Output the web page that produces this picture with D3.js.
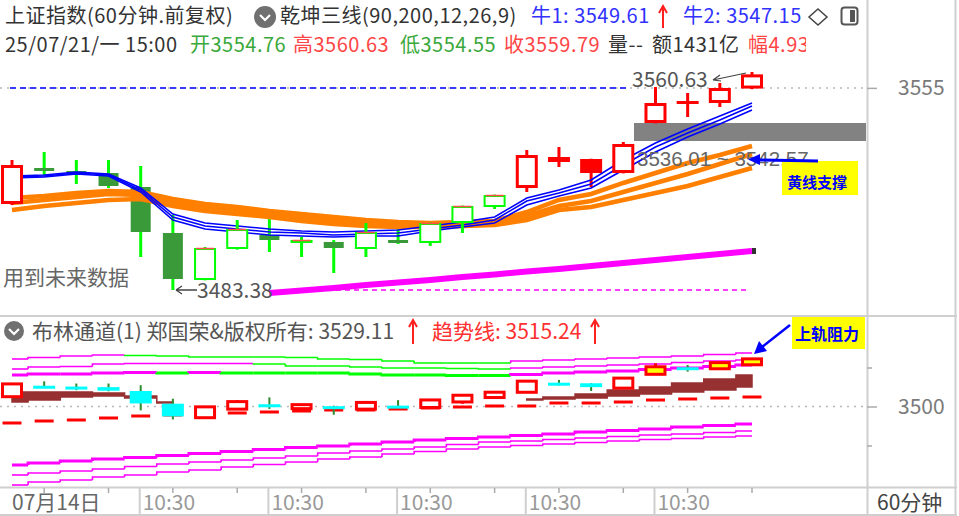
<!DOCTYPE html>
<html><head><meta charset="utf-8">
<script src="https://cdn.jsdelivr.net/npm/d3@7"></script>
<style>
body{margin:0;background:#fff;}
svg{display:block;font-family:"Noto Sans CJK SC","Noto Sans",sans-serif;}
</style></head><body>
<svg id="c" width="959" height="516"></svg>
<script>
// ---------- data ----------
const openP  = [3513.85,3526.61,3525.55,3524.84,3519.88,3503.58,3486.92,3497.91,3502.87,3501.00,3500.39,3497.91,3501.10,3500.04,3507.12,3512.79,3519.52,3530.51,3529.80,3524.84,3542.56,3550.35,3549.65,3554.76];
const highP  = [3529.45,3532.28,3529.45,3529.45,3527.32,3509.96,3498.60,3508.18,3511.73,3502.16,3501.10,3507.12,3508.18,3507.30,3513.30,3517.20,3532.99,3534.05,3529.90,3535.83,3555.31,3553.19,3556.73,3560.63];
const lowP   = [3513.50,3524.13,3520.94,3519.52,3495.07,3483.38,3486.80,3497.70,3496.85,3495.07,3489.40,3495.07,3499.68,3498.97,3503.58,3512.08,3518.10,3526.97,3519.88,3524.70,3542.40,3544.68,3548.23,3554.55];
const closeP = [3527.67,3525.90,3524.84,3520.23,3503.93,3487.28,3498.26,3504.99,3501.10,3501.10,3498.26,3503.93,3500.39,3507.12,3513.15,3517.04,3531.22,3528.74,3524.84,3535.12,3549.65,3549.29,3554.96,3559.79];
const trend  = [1,-1,-1,-1,-1,-1,-1,-1,-1,-1,-1,-1,-1,-1,-1,-1,1,1,1,1,1,1,1,1];

const blue1 = [3523.78,3524.13,3525.19,3524.49,3519.52,3510.31,3507.12,3506.06,3505.00,3504.29,3503.93,3504.29,3504.64,3506.06,3507.48,3509.25,3515.98,3518.82,3522.36,3529.45,3535.47,3540.43,3545.04,3549.61];
const blue2 = [3523.42,3523.78,3524.84,3524.13,3518.82,3509.25,3506.06,3505.00,3503.93,3503.58,3502.87,3503.22,3503.58,3505.00,3506.41,3508.18,3514.92,3517.75,3520.94,3527.67,3534.05,3539.01,3543.62,3548.58];
const blue3 = [3523.07,3523.42,3524.49,3523.78,3518.11,3508.18,3505.00,3503.93,3502.87,3502.51,3502.16,3502.51,3502.51,3504.29,3505.70,3507.12,3513.50,3516.69,3519.52,3525.90,3532.28,3537.60,3542.20,3547.15];
const orange1 = [3515.98,3516.69,3517.75,3518.46,3518.11,3515.63,3513.85,3512.79,3511.37,3510.31,3509.25,3508.18,3507.48,3507.12,3507.48,3507.83,3511.02,3515.27,3517.40,3521.30,3524.84,3528.38,3531.22,3534.41];
const orange2 = [3514.21,3515.27,3516.33,3517.40,3517.04,3514.56,3512.79,3511.73,3510.31,3509.25,3508.18,3507.12,3506.77,3506.41,3506.77,3507.12,3509.60,3513.15,3514.92,3518.11,3521.30,3524.49,3528.03,3531.57];
const orange3 = [3511.73,3513.15,3514.21,3515.27,3515.63,3513.15,3511.37,3510.31,3509.25,3507.83,3506.77,3506.06,3505.70,3505.70,3506.06,3506.41,3508.18,3511.73,3512.79,3515.27,3517.75,3520.23,3523.42,3526.61];
const magentaM = [null,null,null,null,null,null,null,null,3482.32,3483.20,3484.09,3485.15,3486.04,3486.92,3487.99,3488.87,3489.94,3490.82,3491.88,3492.95,3494.01,3495.07,3496.14,3497.20];

const upA = [3560.90,3562.82,3564.75,3566.03,3565.39,3564.75,3563.46,3563.46,3563.46,3562.82,3560.90,3560.26,3558.34,3555.77,3555.77,3555.77,3558.34,3559.62,3560.90,3562.18,3563.46,3564.75,3566.67,3568.59];
const upB = [3548.08,3550.64,3551.28,3554.49,3555.13,3555.13,3555.13,3555.13,3554.49,3551.93,3551.93,3550.64,3549.36,3549.36,3548.72,3548.08,3549.36,3550.64,3551.93,3553.21,3554.49,3556.41,3558.34,3559.62];
const upC = [3540.39,3541.67,3541.67,3542.95,3543.59,3542.95,3543.59,3542.95,3542.95,3542.95,3542.95,3541.67,3540.39,3540.39,3539.75,3539.75,3541.03,3542.95,3544.23,3545.51,3547.44,3549.36,3551.28,3553.21];
const lowA = [3425.00,3427.56,3430.13,3432.69,3434.61,3437.18,3439.74,3442.31,3444.87,3447.43,3449.36,3451.92,3454.49,3457.05,3458.97,3460.90,3462.82,3464.74,3467.31,3469.23,3471.15,3473.72,3475.64,3477.56];
const lowB = [3412.18,3414.74,3417.30,3419.87,3423.07,3426.28,3428.84,3431.41,3433.97,3436.54,3440.38,3442.95,3445.51,3448.07,3451.28,3454.49,3455.77,3457.69,3459.61,3461.54,3463.46,3464.74,3466.67,3468.59];
const lowC = [3399.36,3403.20,3405.77,3409.61,3412.18,3416.02,3418.59,3422.43,3425.64,3428.84,3432.69,3435.25,3439.10,3442.31,3445.51,3448.07,3450.00,3451.92,3453.84,3455.77,3457.69,3458.97,3460.90,3462.18];
const midTop = [3518.59,3518.59,3518.59,3517.31,3513.46,3505.77,null,null,null,null,null,null,null,null,null,null,3509.62,3512.18,3516.03,3521.15,3525.00,3530.13,3535.26,3540.39];
const midBot = [3505.77,3508.33,3512.18,3513.46,3510.90,3504.49,null,null,null,null,null,null,null,null,null,null,3508.33,3509.62,3510.90,3513.46,3516.03,3518.59,3521.15,3525.00];
const trendLine = [3478.85,3481.41,3482.69,3485.26,3487.82,3489.10,3490.38,3491.67,3492.95,3494.23,3495.51,3495.51,3496.79,3498.08,3499.36,3500.64,3500.64,3504.49,3504.49,3505.77,3508.33,3509.62,3510.90,3512.18];

const dayTickIdx = [0,4,8,12,16,20];
const dayTickLabels = ["07月14日","10:30","10:30","10:30","10:30","10:30"];
const mainTicks = [3555];
const lowTicks = [3500];
const lowMinorTicks = [3450,3550];
const hiLabel = 3560.63, loLabel = 3483.38;
const bandLabel = "3536.01 ~ 3542.57";
const bollValue = 3529.11, trendValue = 3515.24;

// ---------- scales ----------
const svg = d3.select("#c");
const n = closeP.length;
const x = d3.scaleLinear().domain([0, n-1]).range([12, 752]);
const yM = d3.scaleLinear().domain([3483.38, 3560.63]).range([290, 72]);
const yL = d3.scaleLinear().domain([3500, 3550]).range([406.5, 367.5]);

const RED = "#ff0000", GRN = "#00ff00", DKG = "#3a9a3a", MAG = "#ff00ff";

// clips
const defs = svg.append("defs");
defs.append("clipPath").attr("id","cm").append("rect").attr("x",0).attr("y",58).attr("width",866).attr("height",257);
defs.append("clipPath").attr("id","cl").append("rect").attr("x",0).attr("y",317).attr("width",866).attr("height",170);
defs.append("clipPath").attr("id","ch").append("rect").attr("x",0).attr("y",0).attr("width",806).attr("height",58);

// ---------- frame ----------
const frame = svg.append("g").attr("stroke","#cfcfcf").attr("stroke-width",2);
frame.append("line").attr("x1",0).attr("x2",957).attr("y1",316).attr("y2",316);
frame.append("line").attr("x1",0).attr("x2",957).attr("y1",487.5).attr("y2",487.5);
frame.append("line").attr("x1",867.5).attr("x2",867.5).attr("y1",0).attr("y2",516);
frame.append("line").attr("x1",955.5).attr("x2",955.5).attr("y1",0).attr("y2",516);
frame.append("line").attr("x1",0).attr("x2",957).attr("y1",515).attr("y2",515);

// ---------- main panel ----------
const gm = svg.append("g").attr("clip-path","url(#cm)");
gm.append("line").attr("x1",0).attr("x2",866).attr("y1",yM(3555)).attr("y2",yM(3555))
  .attr("stroke","#b8b8b8").attr("stroke-width",1.5).attr("stroke-dasharray","2,5");
gm.append("line").attr("x1",10).attr("x2",630).attr("y1",yM(3555)).attr("y2",yM(3555))
  .attr("stroke","#3a3aff").attr("stroke-width",2).attr("stroke-dasharray","6,4");
gm.append("rect").attr("x",634).attr("y",123).attr("width",232).attr("height",18).attr("fill","#828282");

const lineM = d3.line().defined(d=>d!=null).x((d,i)=>x(i)).y(d=>yM(d));
gm.append("line").attr("x1",282).attr("x2",750).attr("y1",yM(loLabel)).attr("y2",yM(loLabel))
  .attr("stroke",MAG).attr("stroke-width",1.5).attr("stroke-dasharray","5,4");
gm.append("path").attr("d",lineM(magentaM)).attr("fill","none").attr("stroke",MAG).attr("stroke-width",6);
gm.append("rect").attr("x",x(n-1)).attr("y",yM(magentaM[n-1])-3).attr("width",4).attr("height",6).attr("fill","#333");

function candleMain(i, hollowPass){
  const o=openP[i], c=closeP[i], up=c>=o, bull=trend[i]>0;
  if (up !== hollowPass) return;
  const cx = x(i), hw = 11;
  const top = yM(Math.max(o,c)), bot = yM(Math.min(o,c));
  const wc = bull ? RED : GRN;
  gm.append("line").attr("x1",cx).attr("x2",cx).attr("y1",yM(highP[i])).attr("y2",yM(lowP[i]))
    .attr("stroke",wc).attr("stroke-width",3);
  if (bull && up) {
    gm.append("rect").attr("x",cx-hw+1.5).attr("y",top+1.5).attr("width",2*hw-3).attr("height",Math.max(bot-top-3,1))
      .attr("fill","#fff").attr("stroke",RED).attr("stroke-width",3);
  } else if (bull) {
    gm.append("rect").attr("x",cx-hw).attr("y",top).attr("width",2*hw).attr("height",Math.max(bot-top,3)).attr("fill",RED);
  } else if (up) {
    gm.append("rect").attr("x",cx-hw+1).attr("y",top+1).attr("width",2*hw-2).attr("height",Math.max(bot-top-2,1))
      .attr("fill","#fff").attr("stroke",GRN).attr("stroke-width",2);
    gm.append("line").attr("x1",cx-hw+2).attr("x2",cx+hw-2).attr("y1",top+0.5).attr("y2",top+0.5).attr("stroke","#ff5050").attr("stroke-width",1.5);
  } else {
    gm.append("rect").attr("x",cx-hw+1).attr("y",top).attr("width",2*hw-2).attr("height",Math.max(bot-top,3)).attr("fill",DKG);
  }
}
for (let i=0;i<n;i++) candleMain(i,false);
[orange3,orange2,orange1].forEach(a=>gm.append("path").attr("d",lineM(a)).attr("fill","none").attr("stroke","#ff8000").attr("stroke-width",4.5));
[blue3,blue2,blue1].forEach(a=>gm.append("path").attr("d",lineM(a)).attr("fill","none").attr("stroke","#0000ff").attr("stroke-width",1.6));
for (let i=0;i<n;i++) candleMain(i,true);

const T = (g, tx, ty, s, fill, size) =>
  g.append("text").attr("x",tx).attr("y",ty).text(s).attr("fill",fill).attr("font-size",size||21);

T(gm, 632, 87, d3.format(".2f")(hiLabel), "#555");
gm.append("path").attr("d",`M713,80 L746,73 M713,80 l7,-5 M713,80 l8,1`).attr("stroke","#444").attr("stroke-width",1.2).attr("fill","none");
T(gm, 637, 166, bandLabel, "#666").attr("font-family",'"Liberation Sans",Arial,sans-serif').attr("font-size",20.5);
T(gm, 197, 298, d3.format(".2f")(loLabel), "#555");
gm.append("path").attr("d",`M176,${yM(loLabel)} L197,${yM(loLabel)} M176,${yM(loLabel)} l6,-4 M176,${yM(loLabel)} l6,4`).attr("stroke","#444").attr("stroke-width",1.3).attr("fill","none");
T(gm, 3, 285, "用到未来数据", "#666");

// 黄线支撑
svg.append("rect").attr("x",782).attr("y",161).attr("width",76).attr("height",34).attr("fill","#ffff00");
svg.append("text").attr("x",787).attr("y",188).text("黄线支撑").attr("fill","#0000ff").attr("font-size",15).attr("font-weight","bold");
svg.append("path").attr("d","M818,161 L758,160").attr("stroke","#0000ff").attr("stroke-width",3);
svg.append("path").attr("d","M748,159.5 L760,154 L760,165 Z").attr("fill","#0000ff");

// ---------- lower panel ----------
const gl = svg.append("g").attr("clip-path","url(#cl)");
gl.append("line").attr("x1",0).attr("x2",866).attr("y1",yL(3500)).attr("y2",yL(3500))
  .attr("stroke","#b8b8b8").attr("stroke-width",1.5).attr("stroke-dasharray","2,5");

function stepBand(arr, width){
  for (let i=0;i<n;i++){
    const x0 = i===0 ? x(0) : (x(i-1)+x(i))/2;
    const x1 = i===n-1 ? x(n-1) : (x(i)+x(i+1))/2;
    const prev = i===0 ? arr[0] : arr[i-1];
    let dir = 0;
    for (let k=i;k>0 && dir===0;k--) dir = Math.sign(arr[k]-arr[k-1]);
    if (dir===0) dir = 1;
    const col = dir>0 ? MAG : GRN;
    const pts = [[x0, yL(prev)], [x0, yL(arr[i])], [x1, yL(arr[i])]];
    gl.append("path").attr("d", d3.line()(pts)).attr("fill","none").attr("stroke",col).attr("stroke-width",width);
  }
}
stepBand(upA,1.6); stepBand(upB,1.6); stepBand(upC,3);
stepBand(lowC,1.6); stepBand(lowB,1.6); stepBand(lowA,3);

const midArea = d3.area().defined((d,i)=>midTop[i]!=null).curve(d3.curveStep)
  .x((d,i)=>x(i)).y0((d,i)=>yL(midBot[i])).y1((d,i)=>yL(midTop[i]));
gl.append("path").attr("d",midArea(midTop)).attr("fill","#973131").attr("stroke","#973131").attr("stroke-width",1.5);

trendLine.forEach((v,i)=>{
  gl.append("line").attr("x1",x(i)-9.5).attr("x2",x(i)+9.5).attr("y1",yL(v)).attr("y2",yL(v)).attr("stroke",RED).attr("stroke-width",3);
});

for (let i=0;i<n;i++){
  const o=openP[i], c=closeP[i], up=c>=o, cx=x(i), hw=11;
  const top=yL(Math.max(o,c)), bot=yL(Math.min(o,c));
  gl.append("line").attr("x1",cx).attr("x2",cx).attr("y1",yL(highP[i])).attr("y2",yL(lowP[i]))
    .attr("stroke", up?RED:"#2e8b2e").attr("stroke-width",up?3:2);
  if (up){
    gl.append("rect").attr("x",cx-hw+1.5).attr("y",top-1).attr("width",2*hw-3).attr("height",Math.max(bot-top,2)+2)
      .attr("fill", c>upC[i] ? "#ffff00" : "#fff").attr("stroke",RED).attr("stroke-width",3);
  } else {
    gl.append("rect").attr("x",cx-hw).attr("y",top).attr("width",2*hw).attr("height",Math.max(bot-top,3)).attr("fill","#00ffff");
  }
}

// 上轨阻力
svg.append("rect").attr("x",792).attr("y",317).attr("width",73).attr("height",32).attr("fill","#ffff00");
svg.append("text").attr("x",795).attr("y",340).text("上轨阻力").attr("fill","#0000ff").attr("font-size",16).attr("font-weight","bold");
svg.append("path").attr("d","M790,325 L762,347").attr("stroke","#0000ff").attr("stroke-width",2.5);
svg.append("path").attr("d","M754,354 L759,341 L767,351 Z").attr("fill","#0000ff");

// ---------- right axes ----------
function styleAxis(g){
  g.select(".domain").remove();
  g.selectAll(".tick line").attr("stroke","#aaa").attr("stroke-width",1.5);
  g.selectAll(".tick text").attr("fill","#7a7a7a").attr("font-size",21).attr("font-family",'"Noto Sans CJK SC","Noto Sans",sans-serif');
}
svg.append("g").attr("transform","translate(867,0)")
  .call(d3.axisRight(yM).tickValues(mainTicks).tickSize(10).tickPadding(21).tickFormat(d3.format("d"))).call(styleAxis);
svg.append("g").attr("transform","translate(867,0)")
  .call(d3.axisRight(yL).tickValues(lowTicks).tickSize(10).tickPadding(21).tickFormat(d3.format("d"))).call(styleAxis);
svg.append("g").attr("transform","translate(867,0)")
  .call(d3.axisRight(yL).tickValues(lowMinorTicks).tickSize(5).tickFormat("")).call(styleAxis);

// ---------- x axis ----------
const gx = svg.append("g");
for (let i=1;i<n;i+=2){
  if (dayTickIdx.includes(i)) continue;
  gx.append("line").attr("x1",x(i)).attr("x2",x(i)).attr("y1",488).attr("y2",493).attr("stroke","#aaa").attr("stroke-width",1.5);
}
dayTickIdx.forEach((idx,k)=>{
  if (k>0) gx.append("line").attr("x1",x(idx)-1).attr("x2",x(idx)-1).attr("y1",488).attr("y2",516).attr("stroke","#cfcfcf").attr("stroke-width",2);
  gx.append("text").attr("x", k===0 ? x(idx) : x(idx)+2).attr("y",510).text(dayTickLabels[k])
    .attr("fill", k===0 ? "#666" : "#999").attr("font-size",21);
});
svg.append("text").attr("x",877).attr("y",510).text("60分钟").attr("fill","#444").attr("font-size",21);

// ---------- headers ----------
function upArrow(g, ax, y0, y1){
  g.append("path").attr("d",`M${ax},${y1} L${ax},${y0} M${ax-4},${y0+7} L${ax},${y0} L${ax+4},${y0+7}`)
    .attr("stroke","#ff2020").attr("stroke-width",2).attr("fill","none");
}
function chevron(g, cx, cy, r){
  g.append("circle").attr("cx",cx).attr("cy",cy).attr("r",r).attr("fill","#707070");
  g.append("path").attr("d",`M${cx-5},${cy-2} L${cx},${cy+3} L${cx+5},${cy-2}`).attr("stroke","#fff").attr("stroke-width",2.2).attr("fill","none");
}
const gh = svg.append("g").attr("clip-path","url(#ch)").attr("letter-spacing","0.5px");
const HS = 20, R1 = 22.5, R2 = 51.5;
T(gh, 5, R1, "上证指数(60分钟.前复权)", "#333", HS);
chevron(gh, 265, 17, 11);
T(gh, 280, R1, "乾坤三线(90,200,12,26,9)", "#333", HS);
T(gh, 531, R1, "牛1: " + blue1[n-1].toFixed(2), "#3232ff", HS);
upArrow(gh, 663, 6, 28);
T(gh, 683, R1, "牛2: " + blue3[n-1].toFixed(2), "#3232ff", HS);
svg.append("path").attr("d","M818,9 L827,17 L818,25 L809,17 Z").attr("fill","none").attr("stroke","#444").attr("stroke-width",1.5);
svg.append("rect").attr("x",841.5).attr("y",7.5).attr("width",16).attr("height",17).attr("rx",3).attr("fill","none").attr("stroke","#555").attr("stroke-width",2);
svg.append("rect").attr("x",850).attr("y",10).attr("width",5).attr("height",12).attr("fill","#555");

T(gh, 5, R2, "25/07/21/一 15:00", "#333", HS);
T(gh, 190, R2, "开" + openP[n-1].toFixed(2), "#3aa83a", HS);
T(gh, 293, R2, "高" + highP[n-1].toFixed(2), "#ff4646", HS);
T(gh, 400, R2, "低" + lowP[n-1].toFixed(2), "#3aa83a", HS);
T(gh, 504, R2, "收" + closeP[n-1].toFixed(2), "#ff4646", HS);
T(gh, 608, R2, "量--", "#333", HS);
T(gh, 652, R2, "额1431亿", "#333", HS);
T(gh, 748, R2, "幅4.93%", "#ff4646", HS);

// lower header
chevron(svg, 14, 331, 10);
T(svg, 32, 339, "布林通道(1) 郑国荣&版权所有: " + bollValue.toFixed(2), "#555");
upArrow(svg, 413, 320, 344);
T(svg, 432, 339, "趋势线: " + trendValue.toFixed(2), "#ff3030");
upArrow(svg, 595, 320, 344);
</script>
</body></html>
